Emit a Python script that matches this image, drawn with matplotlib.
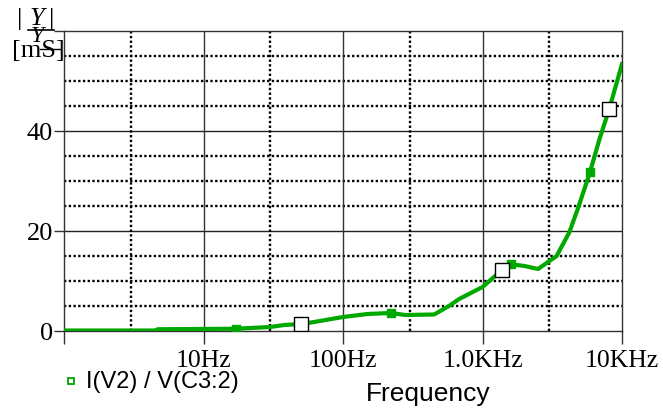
import matplotlib.pyplot as plt
from matplotlib.lines import Line2D

# |Y| in mS versus frequency (Hz)
freq = [1, 4.5, 4.7, 17, 30, 38, 50, 62, 100, 150, 220, 280, 450, 575, 680,
        1000, 1380, 1550, 2000, 2500, 3400, 4200, 4900, 5900, 6900, 8100, 10000]
y_ms = [0.1, 0.1, 0.35, 0.45, 0.8, 1.2, 1.4, 1.8, 2.8, 3.4, 3.6, 3.2, 3.3, 5.0, 6.4,
        8.8, 12.2, 13.4, 13.0, 12.4, 15.0, 19.8, 25.0, 31.8, 38.4, 44.4, 53.4]

# symbol positions along the trace
fill_f = [17, 220, 1600, 5900]
fill_y = [0.45, 3.6, 13.4, 31.8]
open_f = [50, 1380, 8100]
open_y = [1.4, 12.2, 44.4]

xticks = [1, 10, 100, 1000, 10000]
xlabels = ['', '10Hz', '100Hz', '1.0KHz', '10KHz']
yticks = [0, 20, 40, 60]
ylabels = ['0', '20', '40', '']

green = '#00a800'
serif = 'Liberation Serif'
sans = 'Liberation Sans'

fig = plt.figure(figsize=(6.63, 4.10), dpi=100)
ax = fig.add_axes([64 / 663, 1 - 332 / 410, 558 / 663, 300 / 410])

# grid
for v in [5, 10, 15, 25, 30, 35, 45, 50, 55]:
    ax.axhline(v, color='black', lw=1.7, ls=(0, (1, 1)), zorder=1)
for v in [20, 40]:
    ax.axhline(v, color='#222222', lw=1.0, zorder=1)
for v in [3, 30, 300, 3000]:
    ax.axvline(v, color='black', lw=1.7, ls=(0, (1, 1)), zorder=1)
for v in [10, 100, 1000]:
    ax.axvline(v, color='#333333', lw=1.0, zorder=1)

ax.plot(freq, y_ms, color=green, lw=3.0, zorder=3, solid_joinstyle='round')
ax.plot(fill_f, fill_y, 's', color=green, ms=6, zorder=4)
ax.plot(open_f, open_y, 's', mfc='white', mec='black', mew=1.0, ms=10, zorder=5)

ax.set_xscale('log')
ax.set_xlim(1, 10000)
ax.set_ylim(0, 60)
ax.set_xticks(xticks)
ax.set_xticklabels(xlabels, fontfamily=serif, fontsize=18.5)
ax.set_yticks(yticks)
ax.set_yticklabels(ylabels, fontfamily=serif, fontsize=19)
ax.minorticks_off()
ax.tick_params(axis='x', length=9, width=1.0, color='#333333', pad=4)
ax.tick_params(axis='y', length=7, width=1.0, color='#333333', pad=1)
for s in ax.spines.values():
    s.set_color('#333333')
    s.set_linewidth(1.0)

# y-axis caption: |Y| over a bar, unit below
fig.text(20 / 663, 1 - 19 / 410, '|', fontfamily=serif, fontsize=19,
         ha='center', va='center')
fig.text(37 / 663, 1 - 19 / 410, 'Y', fontfamily=serif, fontstyle='italic',
         fontsize=19, ha='center', va='center')
fig.text(52 / 663, 1 - 19 / 410, '|', fontfamily=serif, fontsize=19,
         ha='center', va='center')
fig.text(37 / 663, 1 - 36 / 410, 'Y', fontfamily=serif, fontstyle='italic',
         fontsize=17, ha='center', va='center')
fig.add_artist(Line2D([28 / 663, 54 / 663], [1 - 31 / 410, 1 - 31 / 410],
                      color='black', lw=1.2))
fig.text(38 / 663, 1 - 51 / 410, '[mS]', fontfamily=serif, fontsize=19,
         ha='center', va='center')
fig.add_artist(Line2D([40 / 663, 60 / 663], [1 - 50 / 410, 1 - 50 / 410],
                      color='black', lw=1.0))

# legend entry and x caption
fig.add_artist(Line2D([71 / 663], [1 - 382 / 410], marker='s', ms=5,
                      mfc='white', mec=green, mew=1.3, lw=0))
fig.text(86 / 663, 1 - 382 / 410, 'I(V2) / V(C3:2)', fontfamily=sans,
         fontsize=17, ha='left', va='center')
fig.text(428 / 663, 1 - 394 / 410, 'Frequency', fontfamily=sans,
         fontsize=19, ha='center', va='center')

fig.savefig('out.png', dpi=100)
